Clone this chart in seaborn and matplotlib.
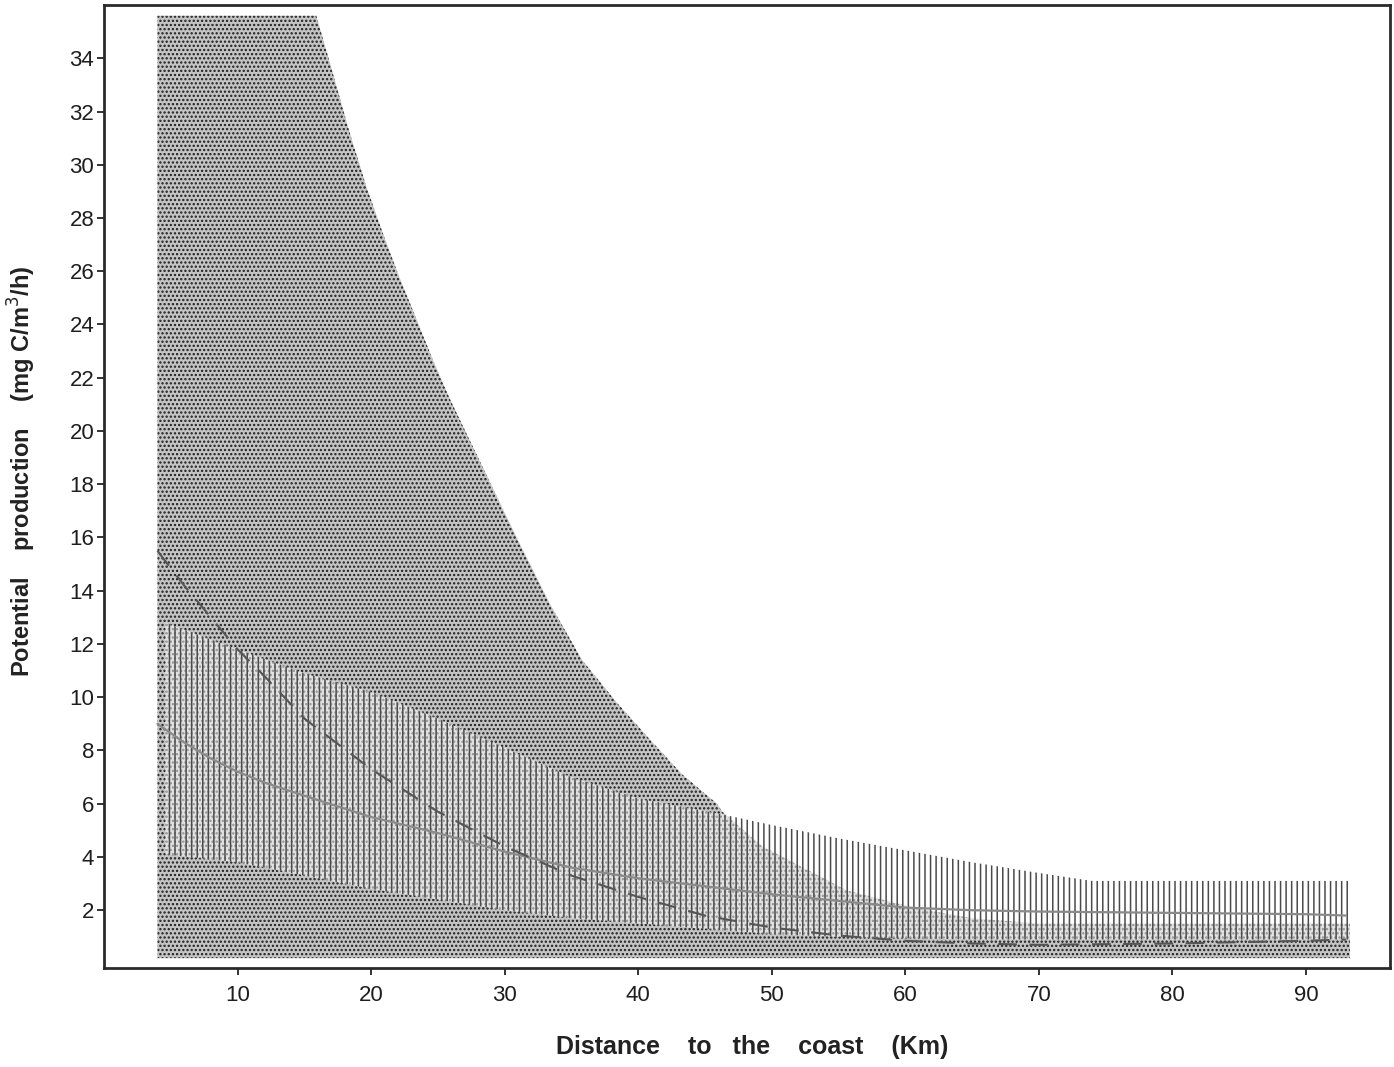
import numpy as np
import pandas as pd
import matplotlib
matplotlib.use("Agg")
import matplotlib.pyplot as plt
import seaborn as sns

# Envelope of all potential production values (stippled area)
env_km = [4.0, 15.9, 17.1, 18.4, 19.7, 20.9, 22.1, 23.4, 24.6, 25.9, 28.4, 30.9,
          33.4, 35.8, 38.4, 40.9, 43.3, 45.9, 46.3, 49.3, 55.6, 60.6, 65.0, 70.0,
          80.0, 93.3]
env_top = [35.6, 35.6, 33.5, 31.2, 29.1, 27.4, 25.8, 24.2, 22.7, 21.2, 18.6, 16.0,
           13.5, 11.4, 9.8, 8.4, 7.1, 6.0, 5.7, 4.4, 2.75, 2.1, 1.7, 1.5,
           1.5, 1.5]
env_bottom = 0.2

# Range of the second group of stations (vertically hatched band)
band_km = [4.6, 10, 15, 20, 25, 30, 35, 40, 46.3, 50, 55, 60, 65, 70, 74, 80, 93.3]
band_top = [12.8, 11.8, 10.9, 10.2, 9.2, 8.1, 7.0, 6.2, 5.6, 5.2, 4.7, 4.25, 3.8,
            3.4, 3.1, 3.1, 3.1]
band_bottom = [4.1, 3.8, 3.3, 2.8, 2.4, 2.0, 1.7, 1.5, 1.25, 1.1, 1.0, 0.95, 0.9,
               0.9, 0.9, 0.9, 0.9]

# Fitted curves
curve_km = [4, 6, 8, 10, 12, 15, 20, 25, 30, 35, 40, 45, 50, 55, 60, 65, 70, 80,
            90, 93]
solid_fit = [9.0, 8.3, 7.7, 7.2, 6.8, 6.3, 5.5, 4.9, 4.2, 3.6, 3.2, 2.9, 2.6, 2.35,
             2.1, 2.0, 1.95, 1.9, 1.85, 1.8]
dashed_fit = [15.5, 14.2, 13.0, 11.8, 10.8, 9.2, 7.3, 5.7, 4.4, 3.3, 2.5, 1.8, 1.35,
              1.05, 0.85, 0.75, 0.7, 0.75, 0.85, 0.9]

x_ticks = [10, 20, 30, 40, 50, 60, 70, 80, 90]
y_ticks = list(range(2, 35, 2))

sns.set_theme(style="ticks")
plt.rcParams["font.family"] = ["Liberation Sans", "DejaVu Sans"]
plt.rcParams["hatch.linewidth"] = 1.1

fig = plt.figure(figsize=(13.94, 10.67), dpi=100)
ax = fig.add_axes([0.0746, 0.0928, 0.9225, 0.9025])

# stippled envelope
ax.fill_between(env_km, env_bottom, env_top, facecolor="#c4c4c4",
                edgecolor="#1e1e1e", hatch="....", linewidth=0, zorder=1)

# vertically hatched band, lightening the stipple beneath it
ax.fill_between(band_km, band_bottom, band_top, facecolor=(1, 1, 1, 0.52),
                edgecolor="#4a4a4a", hatch="|||", linewidth=0, zorder=2)

df = pd.DataFrame({"km": curve_km, "solid": solid_fit, "dashed": dashed_fit})
sns.lineplot(data=df, x="km", y="solid", ax=ax, color="#8a8a8a", linewidth=1.6,
             zorder=3)
sns.lineplot(data=df, x="km", y="dashed", ax=ax, color="#555555", linewidth=1.5,
             zorder=3, linestyle=(0, (9, 6)))

ax.set_xlim(0, 96.3)
ax.set_ylim(-0.17, 36)
ax.set_xticks(x_ticks)
ax.set_yticks(y_ticks)
ax.tick_params(axis="both", direction="out", length=5, width=1.4,
               color="#333333", labelcolor="#1e1e1e")
ax.tick_params(axis="x", labelsize=16, pad=7)
ax.tick_params(axis="y", labelsize=16, pad=2)

for sp in ax.spines.values():
    sp.set_visible(True)
    sp.set_linewidth(2.0)
    sp.set_color("#2a2a2a")

ax.set_xlabel("Distance    to   the    coast    (Km)", fontsize=18,
              fontweight="bold", color="#222222")
ax.set_ylabel("Potential    production    (mg C/m$^3$/h)", fontsize=17,
              fontweight="bold", color="#222222")
ax.yaxis.label.set_va("center")
ax.xaxis.label.set_va("center")
ax.xaxis.set_label_coords(0.504, -0.082)
ax.yaxis.set_label_coords(-0.064, 0.516)

fig.savefig("out.png", dpi=100, facecolor="white")
